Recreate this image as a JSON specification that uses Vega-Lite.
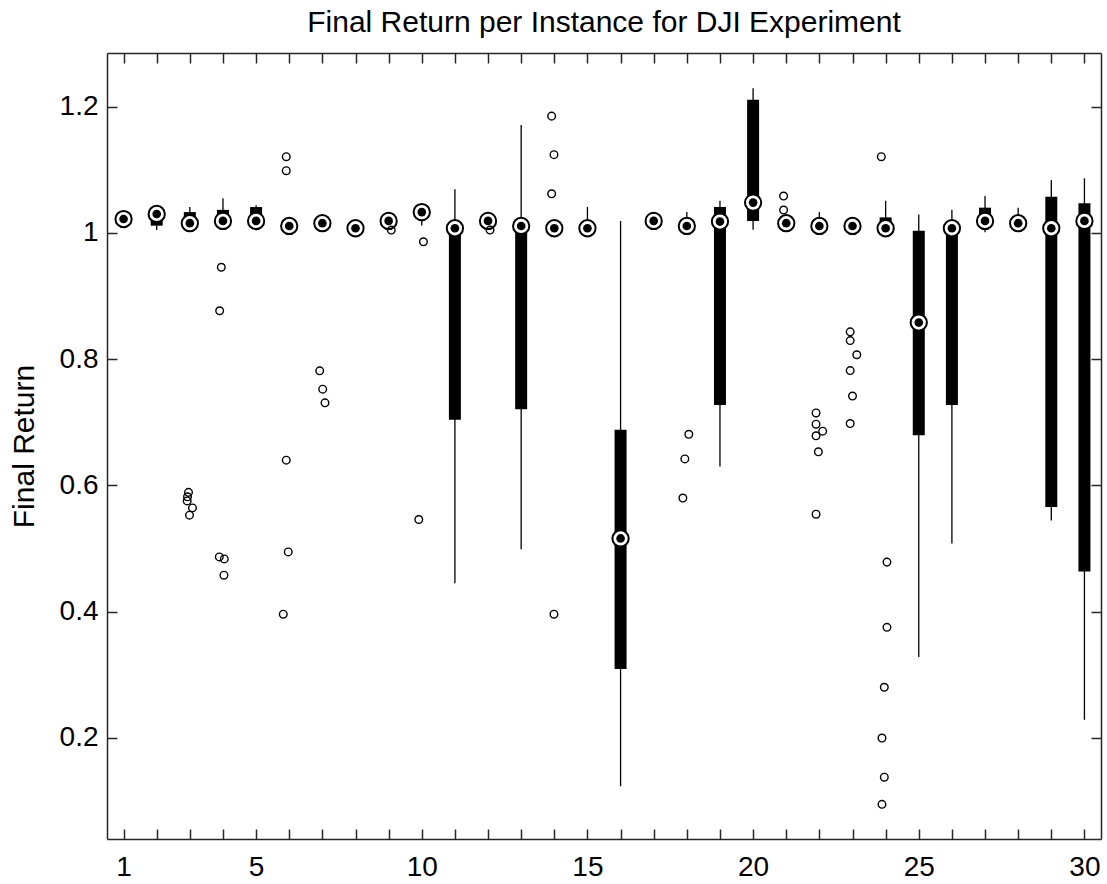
{
  "$schema": "https://vega.github.io/schema/vega-lite/v6.json",
  "width": 994,
  "height": 786,
  "autosize": {"type": "none"},
  "padding": {"left": 107, "top": 53, "right": 6, "bottom": 45},
  "background": "white",
  "title": {
    "text": "Final Return per Instance for DJI Experiment",
    "font": "Liberation Sans",
    "fontSize": 30,
    "fontWeight": "normal",
    "color": "#000000",
    "anchor": "middle",
    "offset": 14
  },
  "config": {
    "view": {"stroke": null},
    "font": "Liberation Sans",
    "axis": {
      "grid": false,
      "domainColor": "#262626",
      "domainWidth": 1.5,
      "tickColor": "#262626",
      "tickWidth": 1.5,
      "tickSize": -10,
      "labelFont": "Liberation Sans",
      "labelFontSize": 28,
      "labelColor": "#000000",
      "labelOverlap": false,
      "labelFlush": false,
      "titleFont": "Liberation Sans",
      "titleFontSize": 30,
      "titleFontWeight": "normal",
      "titleColor": "#000000"
    }
  },
  "datasets": {
    "boxes": [
      {"inst": 1, "lo": 1.015, "q1": 1.018, "med": 1.022, "q3": 1.026, "hi": 1.028},
      {"inst": 2, "lo": 1.0045, "q1": 1.0115, "med": 1.030, "q3": 1.034, "hi": 1.037},
      {"inst": 3, "lo": 1.003, "q1": 1.008, "med": 1.0154, "q3": 1.033, "hi": 1.041},
      {"inst": 4, "lo": 1.005, "q1": 1.012, "med": 1.019, "q3": 1.0365, "hi": 1.055},
      {"inst": 5, "lo": 1.004, "q1": 1.010, "med": 1.019, "q3": 1.041, "hi": 1.044},
      {"inst": 6, "lo": 1.002, "q1": 1.006, "med": 1.011, "q3": 1.016, "hi": 1.020},
      {"inst": 7, "lo": 1.006, "q1": 1.010, "med": 1.0154, "q3": 1.020, "hi": 1.024},
      {"inst": 8, "lo": 0.999, "q1": 1.003, "med": 1.0074, "q3": 1.012, "hi": 1.015},
      {"inst": 9, "lo": 1.011, "q1": 1.014, "med": 1.019, "q3": 1.024, "hi": 1.027},
      {"inst": 10, "lo": 1.0116, "q1": 1.022, "med": 1.033, "q3": 1.038, "hi": 1.042},
      {"inst": 11, "lo": 0.445, "q1": 0.704, "med": 1.0074, "q3": 1.012, "hi": 1.069},
      {"inst": 12, "lo": 1.010, "q1": 1.013, "med": 1.019, "q3": 1.024, "hi": 1.027},
      {"inst": 13, "lo": 0.4987, "q1": 0.7206, "med": 1.011, "q3": 1.016, "hi": 1.171},
      {"inst": 14, "lo": 0.998, "q1": 1.002, "med": 1.0074, "q3": 1.012, "hi": 1.015},
      {"inst": 15, "lo": 0.998, "q1": 1.002, "med": 1.0074, "q3": 1.014, "hi": 1.041},
      {"inst": 16, "lo": 0.1236, "q1": 0.309, "med": 0.516, "q3": 0.688, "hi": 1.019},
      {"inst": 17, "lo": 1.009, "q1": 1.013, "med": 1.019, "q3": 1.024, "hi": 1.027},
      {"inst": 18, "lo": 1.000, "q1": 1.004, "med": 1.011, "q3": 1.018, "hi": 1.033},
      {"inst": 19, "lo": 0.630, "q1": 0.7274, "med": 1.018, "q3": 1.041, "hi": 1.051},
      {"inst": 20, "lo": 1.005, "q1": 1.019, "med": 1.048, "q3": 1.211, "hi": 1.229},
      {"inst": 21, "lo": 1.004, "q1": 1.009, "med": 1.0154, "q3": 1.021, "hi": 1.026},
      {"inst": 22, "lo": 1.000, "q1": 1.005, "med": 1.011, "q3": 1.020, "hi": 1.033},
      {"inst": 23, "lo": 1.002, "q1": 1.006, "med": 1.011, "q3": 1.016, "hi": 1.020},
      {"inst": 24, "lo": 0.996, "q1": 1.000, "med": 1.0074, "q3": 1.0246, "hi": 1.051},
      {"inst": 25, "lo": 0.3283, "q1": 0.6796, "med": 0.858, "q3": 1.0034, "hi": 1.029},
      {"inst": 26, "lo": 0.508, "q1": 0.7273, "med": 1.0074, "q3": 1.012, "hi": 1.0365},
      {"inst": 27, "lo": 1.001, "q1": 1.010, "med": 1.019, "q3": 1.040, "hi": 1.0586},
      {"inst": 28, "lo": 1.006, "q1": 1.010, "med": 1.0154, "q3": 1.022, "hi": 1.040},
      {"inst": 29, "lo": 0.5445, "q1": 0.566, "med": 1.0074, "q3": 1.0573, "hi": 1.0837},
      {"inst": 30, "lo": 0.2288, "q1": 0.4635, "med": 1.019, "q3": 1.047, "hi": 1.0864}
    ],
    "outliers": [
      {"inst": 3, "pos": 2.96, "value": 0.589},
      {"inst": 3, "pos": 2.93, "value": 0.582},
      {"inst": 3, "pos": 2.92, "value": 0.5755},
      {"inst": 3, "pos": 3.08, "value": 0.5644},
      {"inst": 3, "pos": 2.99, "value": 0.5529},
      {"inst": 4, "pos": 3.95, "value": 0.9456},
      {"inst": 4, "pos": 3.90, "value": 0.8767},
      {"inst": 4, "pos": 3.89, "value": 0.4868},
      {"inst": 4, "pos": 4.04, "value": 0.4836},
      {"inst": 4, "pos": 4.03, "value": 0.4578},
      {"inst": 6, "pos": 5.91, "value": 1.1207},
      {"inst": 6, "pos": 5.91, "value": 1.0985},
      {"inst": 6, "pos": 5.91, "value": 0.640},
      {"inst": 6, "pos": 5.97, "value": 0.4947},
      {"inst": 6, "pos": 5.82, "value": 0.396},
      {"inst": 7, "pos": 6.92, "value": 0.7815},
      {"inst": 7, "pos": 7.01, "value": 0.7525},
      {"inst": 7, "pos": 7.08, "value": 0.7308},
      {"inst": 9, "pos": 9.08, "value": 1.0045},
      {"inst": 10, "pos": 10.05, "value": 0.986},
      {"inst": 10, "pos": 9.91, "value": 0.546},
      {"inst": 12, "pos": 12.06, "value": 1.0045},
      {"inst": 14, "pos": 13.92, "value": 1.185},
      {"inst": 14, "pos": 13.99, "value": 1.124},
      {"inst": 14, "pos": 13.92, "value": 1.062},
      {"inst": 14, "pos": 13.99, "value": 0.396},
      {"inst": 18, "pos": 17.88, "value": 0.580},
      {"inst": 18, "pos": 17.94, "value": 0.642},
      {"inst": 18, "pos": 18.06, "value": 0.681},
      {"inst": 21, "pos": 20.92, "value": 1.0584},
      {"inst": 21, "pos": 20.92, "value": 1.0362},
      {"inst": 22, "pos": 21.90, "value": 0.7148},
      {"inst": 22, "pos": 21.90, "value": 0.697},
      {"inst": 22, "pos": 22.10, "value": 0.686},
      {"inst": 22, "pos": 21.90, "value": 0.6786},
      {"inst": 22, "pos": 21.97, "value": 0.6533},
      {"inst": 22, "pos": 21.90, "value": 0.5544},
      {"inst": 23, "pos": 22.93, "value": 0.8433},
      {"inst": 23, "pos": 22.93, "value": 0.8294},
      {"inst": 23, "pos": 23.13, "value": 0.807},
      {"inst": 23, "pos": 22.93, "value": 0.7819},
      {"inst": 23, "pos": 23.00, "value": 0.7416},
      {"inst": 23, "pos": 22.93, "value": 0.698},
      {"inst": 24, "pos": 23.87, "value": 1.1207},
      {"inst": 24, "pos": 24.04, "value": 0.4785},
      {"inst": 24, "pos": 24.04, "value": 0.3752},
      {"inst": 24, "pos": 23.96, "value": 0.2803},
      {"inst": 24, "pos": 23.89, "value": 0.1998},
      {"inst": 24, "pos": 23.96, "value": 0.1378},
      {"inst": 24, "pos": 23.89, "value": 0.0948}
    ]
  },
  "resolve": {"axis": {"x": "independent", "y": "independent"}},
  "layer": [
    {
      "data": {"name": "boxes"},
      "mark": {"type": "rule", "color": "#000000", "strokeWidth": 1.3},
      "encoding": {
        "x": {
          "field": "inst",
          "type": "quantitative",
          "scale": {"domain": [0.5, 30.5], "nice": false, "zero": false},
          "axis": {
            "orient": "bottom",
            "title": null,
            "values": [1,2,3,4,5,6,7,8,9,10,11,12,13,14,15,16,17,18,19,20,21,22,23,24,25,26,27,28,29,30],
            "labelExpr": "datum.value == 1 || datum.value % 5 == 0 ? datum.label : ''",
            "labelPadding": 24
          }
        },
        "y": {
          "field": "lo",
          "type": "quantitative",
          "scale": {"domain": [0.0399, 1.285], "nice": false, "zero": false},
          "axis": {
            "orient": "left",
            "title": "Final Return",
            "values": [0.2, 0.4, 0.6, 0.8, 1, 1.2],
            "format": "~g",
            "labelPadding": 19,
            "titleX": -74,
            "titleBaseline": "alphabetic"
          }
        },
        "y2": {"field": "hi"}
      }
    },
    {
      "data": {"name": "boxes"},
      "mark": {"type": "rule", "color": "#000000", "strokeWidth": 12, "strokeCap": "butt"},
      "encoding": {
        "x": {
          "field": "inst",
          "type": "quantitative",
          "axis": {
            "orient": "top",
            "title": null,
            "labels": false,
            "values": [1,2,3,4,5,6,7,8,9,10,11,12,13,14,15,16,17,18,19,20,21,22,23,24,25,26,27,28,29,30]
          }
        },
        "y": {
          "field": "q1",
          "type": "quantitative",
          "axis": {
            "orient": "right",
            "title": null,
            "labels": false,
            "values": [0.2, 0.4, 0.6, 0.8, 1, 1.2]
          }
        },
        "y2": {"field": "q3"}
      }
    },
    {
      "data": {"name": "boxes"},
      "mark": {"type": "point", "shape": "circle", "filled": true, "fill": "#ffffff", "stroke": "#000000", "strokeWidth": 2, "size": 265, "opacity": 1},
      "encoding": {
        "x": {"field": "inst", "type": "quantitative", "axis": null},
        "y": {"field": "med", "type": "quantitative", "axis": null}
      }
    },
    {
      "data": {"name": "boxes"},
      "mark": {"type": "point", "shape": "circle", "filled": true, "color": "#000000", "size": 75, "opacity": 1},
      "encoding": {
        "x": {"field": "inst", "type": "quantitative", "axis": null},
        "y": {"field": "med", "type": "quantitative", "axis": null}
      }
    },
    {
      "data": {"name": "outliers"},
      "mark": {"type": "point", "shape": "circle", "filled": false, "stroke": "#000000", "strokeWidth": 1.4, "size": 58, "opacity": 1},
      "encoding": {
        "x": {"field": "pos", "type": "quantitative", "axis": null},
        "y": {"field": "value", "type": "quantitative", "axis": null}
      }
    }
  ]
}
